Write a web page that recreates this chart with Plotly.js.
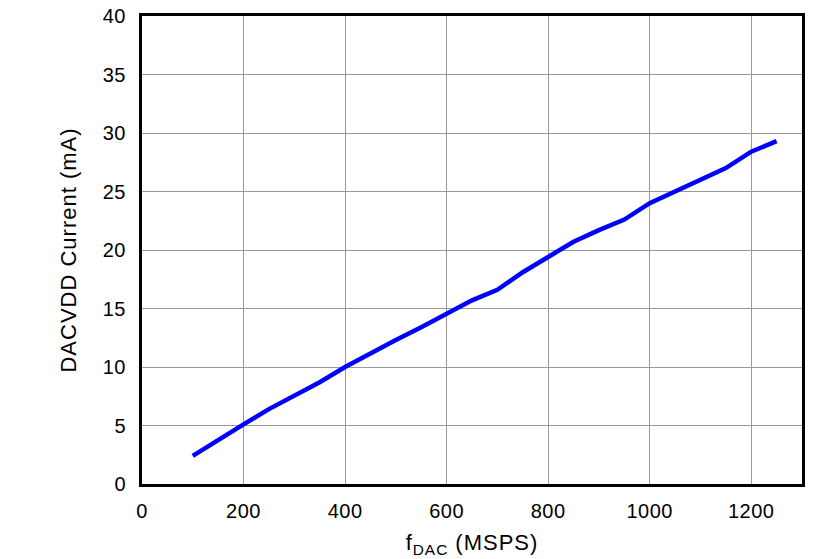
<!DOCTYPE html>
<html><head><meta charset="utf-8">
<script src="https://cdn.plot.ly/plotly-3.0.1.min.js"></script>
<style>html,body{margin:0;padding:0;background:#fff}#c{width:839px;height:559px}
.xtitle,.ytitle{letter-spacing:1px}
.xtick text,.ytick text{letter-spacing:0.5px}
</style>
</head><body><div id="c"></div>
<script>
const fdac = [100,150,200,250,300,350,400,450,500,550,600,650,700,750,800,850,900,950,1000,1050,1100,1150,1200,1250];
const current = [2.4,3.8,5.1,6.4,7.5,8.7,10.0,11.2,12.3,13.4,14.6,15.7,16.6,18.1,19.4,20.7,21.7,22.6,24.0,25.0,26.1,27.0,28.4,29.3];
const xTicks = [0,200,400,600,800,1000,1200];
const yTicks = [0,5,10,15,20,25,30,35,40];

const tickFont = {family: 'Liberation Sans, Arial, sans-serif', size: 20, color: '#000'};
const titleFont = {family: 'Liberation Sans, Arial, sans-serif', size: 22, color: '#000'};
Plotly.newPlot('c', [{
  x: fdac, y: current, type: 'scatter', mode: 'lines',
  line: {color: '#0000ff', width: 4.5}
}], {
  width: 839, height: 559,
  margin: {l: 142, r: 37, t: 16, b: 75},
  paper_bgcolor: '#fff', plot_bgcolor: '#fff',
  showlegend: false,
  font: tickFont,
  xaxis: {
    range: [0, 1300], tickvals: xTicks, ticktext: xTicks.map(String),
    tickfont: tickFont,
    showgrid: true, gridcolor: '#999', gridwidth: 1,
    showline: true, linecolor: '#000', linewidth: 3, mirror: true,
    ticks: '', ticklabelstandoff: 7, zeroline: false,
    title: {text: 'f<sub>DAC</sub> (MSPS)', font: titleFont, standoff: 14}
  },
  yaxis: {
    range: [0, 40], tickvals: yTicks, ticktext: yTicks.map(String),
    tickfont: tickFont,
    showgrid: true, gridcolor: '#999', gridwidth: 1,
    showline: true, linecolor: '#000', linewidth: 3, mirror: true,
    ticks: '', ticklabelstandoff: 9, zeroline: false,
    title: {text: 'DACVDD Current (mA)', font: titleFont, standoff: 21}
  }
}, {staticPlot: true});
</script></body></html>
